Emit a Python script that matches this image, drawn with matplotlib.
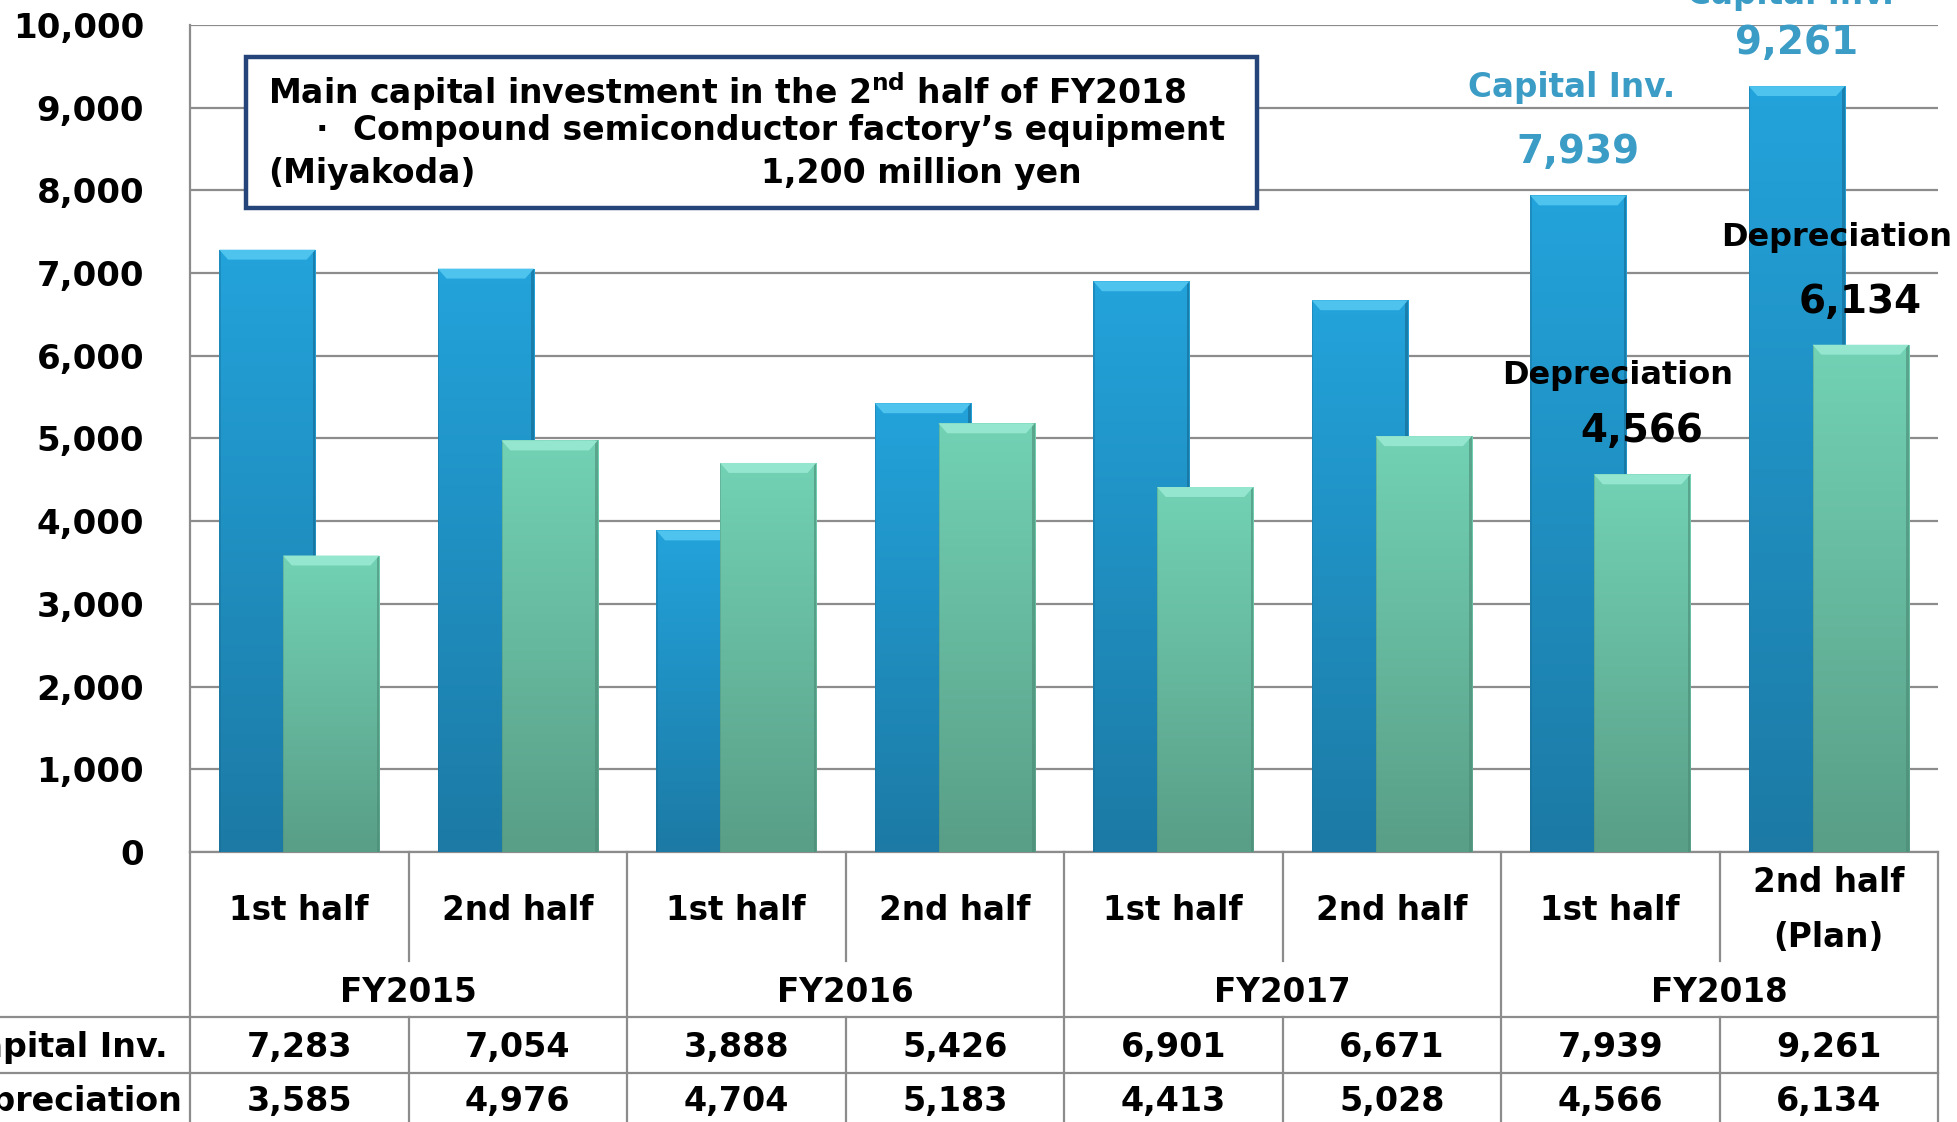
import numpy as np
import matplotlib
matplotlib.use("Agg")
import matplotlib.pyplot as plt
from matplotlib import transforms
from matplotlib.patches import Rectangle, Polygon
from matplotlib.colors import LinearSegmentedColormap

# data
halves = ["1st half", "2nd half", "1st half", "2nd half",
          "1st half", "2nd half", "1st half", "2nd half\n(Plan)"]
years = ["FY2015", "FY2016", "FY2017", "FY2018"]
capital_inv = [7283, 7054, 3888, 5426, 6901, 6671, 7939, 9261]
depreciation = [3585, 4976, 4704, 5183, 4413, 5028, 4566, 6134]
yticks = [0, 1000, 2000, 3000, 4000, 5000, 6000, 7000, 8000, 9000, 10000]

W, H = 1957, 1122
fig = plt.figure(figsize=(W / 100, H / 100), dpi=100)
plt.rcParams['font.family'] = ['DejaVu Sans', 'Noto Sans CJK JP']

def fy(px):
    return 1 - px / H

ax = fig.add_axes([190 / W, fy(852), (1938 - 190) / W, (852 - 25) / H])

blue_cm = LinearSegmentedColormap.from_list('b', ['#1c7aa5', '#23a3db'])
green_cm = LinearSegmentedColormap.from_list('g', ['#599e87', '#72d2b4'])

bw = 0.44
off = 0.146
x = np.arange(len(halves))

def gradient_bars(xs, vals, cmap, bevel, edge, z):
    bars = ax.bar(xs, vals, width=bw, color='none', edgecolor='none', zorder=z)
    grad = np.linspace(0, 1, 256).reshape(-1, 1)
    for b, v in zip(bars, vals):
        x0, x1 = b.get_x(), b.get_x() + b.get_width()
        im = ax.imshow(grad, extent=(x0, x1, 0, v), origin='lower',
                       cmap=cmap, aspect='auto', zorder=z)
        im.set_clip_path(b)
        # side edges
        ax.add_patch(Rectangle((x1 - 0.012, 0), 0.012, v, color=edge,
                               alpha=0.6, lw=0, zorder=z + 0.1))
        ax.add_patch(Rectangle((x0, 0), 0.006, v, color=edge,
                               alpha=0.35, lw=0, zorder=z + 0.1))
        # top bevel
        dx, dy = 0.04, 120
        ax.add_patch(Polygon([(x0, v), (x1, v), (x1 - dx, v - dy), (x0 + dx, v - dy)],
                             closed=True, color=bevel, lw=0, zorder=z + 0.2))
    return bars

gradient_bars(x - off, capital_inv, blue_cm, '#4dc3ee', '#16688f', 3)
gradient_bars(x + off, depreciation, green_cm, '#95e6cf', '#4b8a75', 4)

ax.set_xlim(-0.5, len(halves) - 0.5)
ax.set_ylim(0, 10000)
ax.set_yticks(yticks)
ax.set_yticklabels([f"{v:,}" for v in yticks], fontsize=24.5, fontweight='bold')
ax.tick_params(axis='y', length=0, pad=33)
ax.set_xticks([])
ax.grid(axis='y', color='#8c8c8c', lw=1.6, zorder=0)
ax.set_axisbelow(True)
for s in ['top', 'right']:
    ax.spines[s].set_visible(False)
for s in ['left', 'bottom']:
    ax.spines[s].set_color('#8c8c8c')
    ax.spines[s].set_linewidth(1.6)

# value callouts for FY2018
cap_color = '#3b9cc6'
cap_name_dy = {6: 1300, 7: 1110}
dep_name_dy = {6: 1200, 7: 1300}
for i in (6, 7):
    ax.text(x[i] - off - 0.03, capital_inv[i] + cap_name_dy[i], "Capital Inv.",
            color=cap_color, fontsize=23.5, fontweight='bold', ha='center',
            va='center', zorder=6, clip_on=False)
    ax.text(x[i] - off, capital_inv[i] + 520, f"{capital_inv[i]:,}", color=cap_color,
            fontsize=28, fontweight='bold', ha='center', va='center', zorder=6, clip_on=False)
    ax.text(x[i] + off - 0.11, depreciation[i] + dep_name_dy[i], "Depreciation",
            color='black', fontsize=23, fontweight='bold', ha='center',
            va='center', zorder=6, clip_on=False)
    ax.text(x[i] + off, depreciation[i] + 520, f"{depreciation[i]:,}", color='black',
            fontsize=28, fontweight='bold', ha='center', va='center', zorder=6, clip_on=False)

# table under the chart
tr = transforms.blended_transform_factory(ax.transData, fig.transFigure)
lc, lw = '#8c8c8c', 1.6
y_top, y_split, y_r1, y_r2 = fy(852), fy(961), fy(1017), fy(1073)

def vline(xv, y0, y1):
    fig.add_artist(plt.Line2D([xv, xv], [y0, y1], transform=tr, color=lc, lw=lw))

for k in range(len(halves) + 1):
    xv = k - 0.5
    if k % 2 == 0:
        vline(xv, y_top, 0)
    else:
        vline(xv, y_top, y_split)
        vline(xv, y_r1, 0)
for yy in (y_r1, y_r2):
    fig.add_artist(plt.Line2D([0, 1938 / W], [yy, yy], transform=fig.transFigure,
                              color=lc, lw=lw))

for i, lab in enumerate(halves):
    fig.text(x[i], fy(910), lab, transform=tr, ha='center', va='center',
             fontsize=23.5, fontweight='bold', linespacing=1.85)
    fig.text(x[i], fy(1048), f"{capital_inv[i]:,}", transform=tr, ha='center',
             va='center', fontsize=24, fontweight='bold')
    fig.text(x[i], fy(1102), f"{depreciation[i]:,}", transform=tr, ha='center',
             va='center', fontsize=24, fontweight='bold')
for j, yr in enumerate(years):
    fig.text(2 * j + 0.5, fy(993), yr, transform=tr, ha='center', va='center',
             fontsize=23.5, fontweight='bold')

fig.text(62 / W, fy(1048), "Capital Inv.", ha='center', va='center',
         fontsize=24, fontweight='bold')
fig.text(62 / W, fy(1102), "Depreciation", ha='center', va='center',
         fontsize=24, fontweight='bold')

# note box
fig.add_artist(Rectangle((246 / W, fy(208)), (1257 - 246) / W, (208 - 57) / H,
                         transform=fig.transFigure, facecolor='white',
                         edgecolor='#25457a', lw=3.2, zorder=6))
tkw = dict(fontsize=23.8, fontweight='bold', va='center', zorder=7)
fig.text(268 / W, fy(92), r"Main capital investment in the 2$^{\mathbf{nd}}$ half of FY2018", **tkw)
fig.text(322 / W, fy(131), "\u00b7", ha='center', **tkw)
fig.text(353 / W, fy(131), "Compound semiconductor factory\u2019s equipment", **tkw)
fig.text(268 / W, fy(173), "(Miyakoda)", **tkw)
fig.text(761 / W, fy(173), "1,200 million yen", **tkw)

fig.savefig("out.png", dpi=100)
